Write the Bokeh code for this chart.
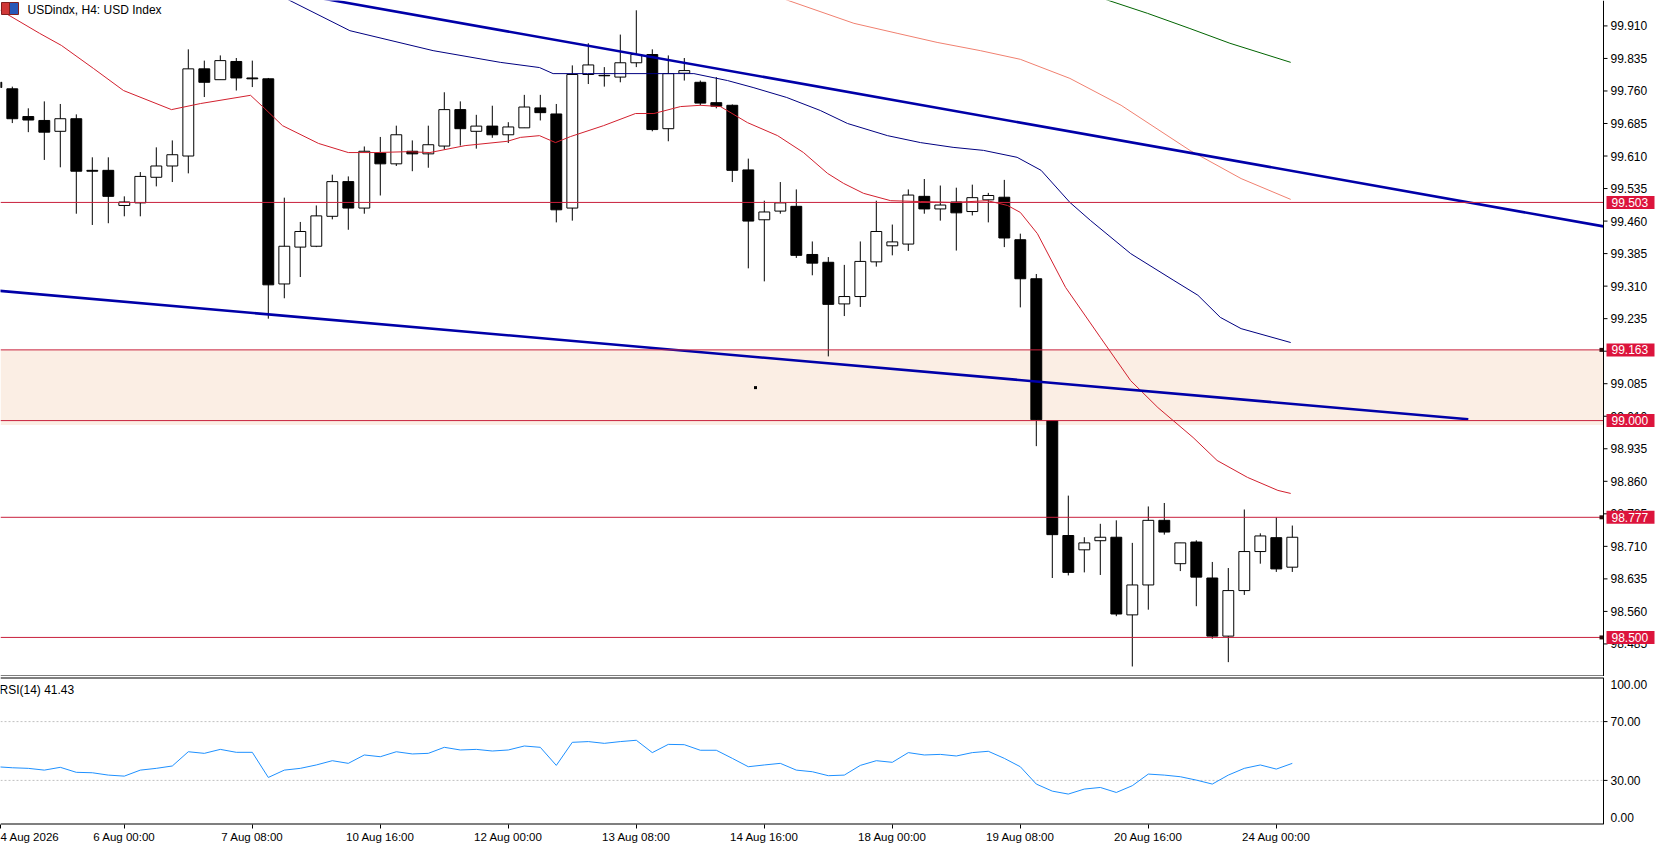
from bokeh.plotting import figure
from bokeh.layouts import column
from bokeh.models import (FixedTicker, Label, Range1d, ColumnDataSource, BoxAnnotation)
from bokeh.embed import file_html
from bokeh.resources import INLINE

# ---------------- data ----------------
bars = list(range(-1, 81))
open_ = [99.780, 99.765, 99.701, 99.692, 99.667, 99.696, 99.577, 99.577, 99.496, 99.502,
         99.561, 99.587, 99.610, 99.811, 99.786, 99.828, 99.790, 99.788, 99.315, 99.400,
         99.402, 99.471, 99.551, 99.490, 99.617, 99.592, 99.621, 99.615, 99.633, 99.717,
         99.667, 99.679, 99.659, 99.675, 99.721, 99.707, 99.490, 99.798, 99.796, 99.792,
         99.825, 99.844, 99.673, 99.801, 99.780, 99.733, 99.727, 99.578, 99.463, 99.483,
         99.494, 99.383, 99.365, 99.269, 99.286, 99.366, 99.403, 99.407, 99.517, 99.488,
         99.504, 99.482, 99.509, 99.515, 99.417, 99.327, 99.000, 98.735, 98.702, 98.723,
         98.731, 98.552, 98.621, 98.770, 98.670, 98.720, 98.637, 98.503, 98.608, 98.698,
         98.730, 98.662]
high = [99.786, 99.770, 99.720, 99.736, 99.730, 99.706, 99.607, 99.607, 99.517, 99.573,
        99.630, 99.646, 99.856, 99.830, 99.842, 99.836, 99.830, 99.790, 99.514, 99.458,
        99.496, 99.567, 99.563, 99.632, 99.654, 99.680, 99.646, 99.680, 99.757, 99.736,
        99.705, 99.726, 99.688, 99.751, 99.751, 99.730, 99.819, 99.870, 99.815, 99.890,
        99.946, 99.856, 99.842, 99.836, 99.784, 99.792, 99.729, 99.604, 99.507, 99.550,
        99.533, 99.413, 99.377, 99.359, 99.413, 99.507, 99.452, 99.533, 99.557, 99.542,
        99.537, 99.544, 99.525, 99.555, 99.431, 99.338, 99.000, 98.827, 98.731, 98.762,
        98.770, 98.718, 98.802, 98.810, 98.718, 98.724, 98.674, 98.660, 98.795, 98.740,
        98.777, 98.758]
low = [99.762, 99.686, 99.665, 99.601, 99.584, 99.477, 99.451, 99.455, 99.471, 99.471,
       99.540, 99.550, 99.570, 99.746, 99.786, 99.761, 99.769, 99.235, 99.282, 99.331,
       99.400, 99.464, 99.440, 99.477, 99.519, 99.587, 99.575, 99.583, 99.625, 99.634,
       99.627, 99.652, 99.640, 99.675, 99.692, 99.457, 99.461, 99.776, 99.770, 99.780,
       99.815, 99.667, 99.644, 99.784, 99.727, 99.720, 99.550, 99.351, 99.321, 99.477,
       99.375, 99.335, 99.148, 99.241, 99.262, 99.355, 99.381, 99.391, 99.477, 99.461,
       99.392, 99.473, 99.457, 99.400, 99.261, 98.941, 98.637, 98.643, 98.650, 98.644,
       98.549, 98.433, 98.564, 98.737, 98.653, 98.572, 98.497, 98.443, 98.598, 98.670,
       98.651, 98.651]
close = [99.768, 99.696, 99.693, 99.665, 99.696, 99.575, 99.575, 99.517, 99.504, 99.563,
         99.587, 99.613, 99.811, 99.780, 99.830, 99.790, 99.788, 99.313, 99.402, 99.436,
         99.472, 99.551, 99.490, 99.621, 99.592, 99.659, 99.615, 99.636, 99.717, 99.673,
         99.679, 99.659, 99.677, 99.723, 99.710, 99.486, 99.798, 99.820, 99.795, 99.825,
         99.844, 99.671, 99.800, 99.807, 99.732, 99.725, 99.577, 99.460, 99.481, 99.502,
         99.381, 99.363, 99.268, 99.286, 99.367, 99.436, 99.412, 99.520, 99.488, 99.497,
         99.479, 99.514, 99.519, 99.421, 99.327, 99.002, 98.737, 98.650, 98.718, 98.731,
         98.554, 98.621, 98.770, 98.743, 98.718, 98.639, 98.503, 98.608, 98.698, 98.734,
         98.658, 98.731]
rsi = [39.3, 38.6, 38.2, 37.0, 38.9, 35.5, 35.2, 33.6, 32.9, 37.0,
       38.2, 39.8, 49.5, 48.4, 51.1, 49.1, 49.1, 32.0, 37.0, 38.2,
       40.5, 43.4, 41.6, 47.3, 46.1, 49.5, 48.0, 48.4, 52.5, 50.7,
       51.1, 50.0, 50.7, 53.4, 52.5, 40.2, 55.9, 56.4, 55.2, 56.4,
       57.3, 48.9, 54.5, 54.3, 50.5, 50.5, 45.0, 39.3, 40.5, 41.6,
       37.0, 35.9, 33.2, 33.6, 40.2, 43.4, 42.3, 48.9, 47.3, 47.7,
       46.6, 48.9, 49.8, 45.0, 39.3, 27.5, 22.7, 20.7, 24.1, 25.2,
       21.8, 26.4, 34.3, 33.6, 32.5, 30.2, 27.5, 33.6, 38.2, 40.5,
       37.7, 41.6]

ma_red_x = [-0.74, 1.7, 3.07, 5.07, 6.95, 9.95, 11.76, 14.89, 15.76, 16.89, 19.14, 21.0,
            22.7, 24.7, 26.1, 28.3, 30.95, 31.76, 32.95, 33.95, 34.9, 36.95, 38.95, 40.1,
            41.76, 43.0, 44.26, 45.95, 47.83, 49.45, 50.95, 51.95, 53.2, 54.9, 56.76, 58.8,
            60.95, 62.2, 63.0, 64.07, 65.83, 68.0, 69.9, 71.6, 73.8, 75.3, 77.2, 79.1, 79.9]
ma_red_y = [99.946, 99.893, 99.865, 99.812, 99.761, 99.717, 99.731, 99.750, 99.720, 99.680,
            99.639, 99.618, 99.618, 99.620, 99.618, 99.634, 99.644, 99.653, 99.657, 99.641,
            99.655, 99.680, 99.708, 99.708, 99.724, 99.727, 99.724, 99.687, 99.657, 99.618,
            99.570, 99.547, 99.524, 99.507, 99.505, 99.503, 99.507, 99.496, 99.480, 99.431,
            99.307, 99.192, 99.092, 99.030, 98.961, 98.908, 98.869, 98.839, 98.832]
ma_navy_x = [17.0, 21.1, 26.3, 30.5, 32.95, 33.8, 35.95, 40.1, 42.6, 44.7, 46.3, 48.4,
             50.5, 52.2, 54.7, 56.76, 58.8, 60.7, 62.8, 64.3, 66.1, 67.4, 69.9, 72.6,
             74.1, 75.5, 76.8, 79.9]
ma_navy_y = [99.975, 99.899, 99.853, 99.826, 99.814, 99.800, 99.800, 99.800, 99.800,
             99.784, 99.768, 99.745, 99.715, 99.685, 99.657, 99.641, 99.630, 99.623,
             99.607, 99.577, 99.503, 99.461, 99.385, 99.323, 99.289, 99.238, 99.212, 99.180]
ma_salmon_x = [48.0, 52.6, 55.3, 57.8, 60.5, 63.0, 66.1, 69.3, 73.6, 76.8, 79.9]
ma_salmon_y = [99.975, 99.916, 99.893, 99.872, 99.853, 99.833, 99.789, 99.727, 99.623,
               99.558, 99.510]
ma_green_x = [68.0, 70.95, 73.6, 76.1, 79.9]
ma_green_y = [99.975, 99.939, 99.904, 99.870, 99.826]

tl_upper_x = [31.76, 63.0]
tl_upper_y = [99.892, 99.687]
tl_lower_x = [-0.74, 91.0]
tl_lower_y = [99.299, 99.003]

levels = [99.503, 99.163, 99.000, 98.777, 98.500]
level_labels = ["99.503", "99.163", "99.000", "98.777", "98.500"]
marked_levels = [99.163, 98.777, 98.500]
zone = [98.990, 99.163]
dot_x = [46.45]
dot_y = [99.076]

price_ticks = [99.910, 99.835, 99.760, 99.685, 99.610, 99.535, 99.460, 99.385, 99.310,
               99.235, 99.160, 99.085, 99.010, 98.935, 98.860, 98.785, 98.710, 98.635,
               98.560, 98.485]
price_tick_labels = ["99.910", "99.835", "99.760", "99.685", "99.610", "99.535", "99.460",
                     "99.385", "99.310", "99.235", "99.160", "99.085", "99.010", "98.935",
                     "98.860", "98.785", "98.710", "98.635", "98.560", "98.485"]
rsi_levels = [70, 30]
rsi_ticks = [100, 70, 30, 0]
rsi_tick_labels = ["100.00", "70.00", "30.00", "0.00"]
time_ticks = [-0.72, 7, 15, 23, 31, 39, 47, 55, 63, 71, 79]
time_labels = ["4 Aug 2026", "6 Aug 00:00", "7 Aug 08:00", "10 Aug 16:00", "12 Aug 00:00",
               "13 Aug 08:00", "14 Aug 16:00", "18 Aug 00:00", "19 Aug 08:00",
               "20 Aug 16:00", "24 Aug 00:00"]

# ---------------- geometry ----------------
FONT = "Liberation Sans"
W = 1662
MAIN_H = 676
RSI_H = 169
PPX = 16.0                     # pixels per bar
X0 = -11.8 / PPX               # left edge of chart
X1 = X0 + 1603 / PPX           # price-axis line
XE = X0 + W / PPX              # right edge of page
Y1 = 99.9686
PPY = 433.7                    # pixels per price unit
Y0 = Y1 - MAIN_H / PPY
XR = Range1d(X0, XE)
LEVEL_COLOR = "#C8203C"

def px(n):
    return n / PPX

# ---------------- main panel ----------------
p = figure(width=W, height=MAIN_H, x_range=XR, y_range=Range1d(Y0, Y1),
           output_backend="svg", toolbar_location=None,
           x_axis_location=None, y_axis_location=None,
           min_border_left=0, min_border_right=0, min_border_top=0, min_border_bottom=0)
p.outline_line_color = None
p.grid.visible = False
p.background_fill_color = "white"
p.border_fill_color = "white"

# zone
p.add_layout(BoxAnnotation(bottom=zone[0], top=zone[1], left=X0, right=X1,
                           fill_color="#FBEEE4", fill_alpha=1.0, line_color=None,
                           level="underlay"))

# candles
tops = [max(o, c) for o, c in zip(open_, close)]
bots = [min(o, c) for o, c in zip(open_, close)]
fills = ["white" if c > o else "black" for o, c in zip(open_, close)]
src = ColumnDataSource(dict(x=bars, h=high, l=low, top=tops, bottom=bots, fill=fills))
p.segment(x0="x", y0="l", x1="x", y1="h", line_color="black", line_width=1, source=src)
p.vbar(x="x", width=0.68, top="top", bottom="bottom", fill_color="fill",
       line_color="black", line_width=1, source=src)

# moving averages
p.line(ma_red_x, ma_red_y, line_color="#D2202E", line_width=1)
p.line(ma_navy_x, ma_navy_y, line_color="#000080", line_width=1)
p.line(ma_salmon_x, ma_salmon_y, line_color="#F08070", line_width=1)
p.line(ma_green_x, ma_green_y, line_color="#006400", line_width=1)

# trend lines
slope_u = (tl_upper_y[1] - tl_upper_y[0]) / (tl_upper_x[1] - tl_upper_x[0])
ux = [10.0, X1]
uy = [tl_upper_y[0] + slope_u * (x - tl_upper_x[0]) for x in ux]
p.line(ux, uy, line_color="#0000A8", line_width=2.6)
slope_l = (tl_lower_y[1] - tl_lower_y[0]) / (tl_lower_x[1] - tl_lower_x[0])
lx = [X0 - 1, tl_lower_x[1]]
ly = [tl_lower_y[0] + slope_l * (x - tl_lower_x[0]) for x in lx]
p.line(lx, ly, line_color="#0000A8", line_width=2.6)

# horizontal levels
n = len(levels)
p.segment(x0=[X0] * n, y0=levels, x1=[X1] * n, y1=levels, line_color=LEVEL_COLOR, line_width=1)
p.scatter([X1 - px(2)] * len(marked_levels), marked_levels, marker="square", size=4,
          fill_color="#301010", line_color=None)
p.scatter(dot_x, dot_y, marker="square", size=3, fill_color="black", line_color=None)

# bottom border of price panel
p.segment(x0=[X0], y0=[Y0], x1=[X1], y1=[Y0], line_color="black", line_width=2)

# price scale (axis line, ticks, labels)
p.segment(x0=[X1], y0=[Y0], x1=[X1], y1=[Y1], line_color="black", line_width=1)
m = len(price_ticks)
p.segment(x0=[X1] * m, y0=price_ticks, x1=[X1 + px(4)] * m, y1=price_ticks,
          line_color="black", line_width=1)
p.text(x=[X1 + px(7)] * m, y=price_ticks, text=price_tick_labels, text_font_size="12px",
       text_font={"value": FONT}, text_color="black", text_baseline="middle",
       text_align="left")
# level price boxes
p.rect(x=[X1 + px(27)] * n, y=levels, width=px(48), height=13 / PPY,
       fill_color="#DC143C", line_color=None)
p.text(x=[X1 + px(8)] * n, y=levels, text=level_labels, text_font_size="12px",
       text_font={"value": FONT}, text_color="white", text_baseline="middle",
       text_align="left")

# title + icon
p.quad(left=[X0 + px(1)], right=[X0 + px(9)], top=[Y1 - 2 / PPY], bottom=[Y1 - 14 / PPY],
       fill_color="#D03838", line_color="#802020")
p.quad(left=[X0 + px(9)], right=[X0 + px(18)], top=[Y1 - 2 / PPY], bottom=[Y1 - 14 / PPY],
       fill_color="#2858B8", line_color="#802020")
p.add_layout(Label(x=X0, y=Y1, x_offset=27, y_offset=-9.5, text="USDindx, H4:  USD Index",
                   text_font=FONT, text_font_size="12px", text_color="black",
                   text_baseline="middle", text_align="left"))

# ---------------- RSI panel ----------------
RPPY = 147 / 100.0
r = figure(width=W, height=RSI_H, x_range=XR, y_range=Range1d(0, 100),
           output_backend="svg", toolbar_location=None,
           x_axis_location="below", y_axis_location=None,
           min_border_left=0, min_border_right=0, min_border_top=1, min_border_bottom=21)
r.outline_line_color = None
r.grid.visible = False
r.background_fill_color = "white"
r.border_fill_color = "white"

xa = r.xaxis[0]
xa.ticker = FixedTicker(ticks=time_ticks)
xa.major_label_overrides = {t: lab for t, lab in zip(time_ticks, time_labels)}
xa.major_label_text_align = "left"
xa.major_tick_out = 4
xa.major_tick_in = 0
xa.minor_tick_line_color = None
xa.major_label_standoff = 2
xa.major_label_text_font = FONT
xa.major_label_text_font_size = "11.5px"
xa.major_label_text_color = "black"
xa.axis_line_color = None
xa.major_tick_line_color = "black"

k = len(rsi_levels)
r.segment(x0=[X0] * k, y0=rsi_levels, x1=[X1] * k, y1=rsi_levels, line_color="#C0C0C0",
          line_width=1, line_dash="2 2")
r.line(bars, rsi, line_color="#1E90FF", line_width=1)

# borders
r.segment(x0=[X0, X0], y0=[100, 0], x1=[X1, X1], y1=[100, 0], line_color="black",
          line_width=2)
r.segment(x0=[X1], y0=[0], x1=[X1], y1=[100], line_color="black", line_width=1)

# RSI scale
label_y = [v for v in rsi_ticks]
label_y[0] = rsi_ticks[0] - 7 / RPPY
label_y[-1] = rsi_ticks[-1] + 7.5 / RPPY
r.segment(x0=[X1] * k, y0=rsi_levels, x1=[X1 + px(4)] * k, y1=rsi_levels,
          line_color="black", line_width=1)
r.text(x=[X1 + px(7)] * len(rsi_ticks), y=label_y, text=rsi_tick_labels,
       text_font_size="12px", text_font={"value": FONT}, text_color="black",
       text_baseline="middle", text_align="left")
r.add_layout(Label(x=X0, y=100, x_offset=-1, y_offset=-12, text="RSI(14) 41.43",
                   text_font=FONT, text_font_size="12px", text_color="black",
                   text_baseline="middle", text_align="left"))

layout = column(p, r, spacing=0)
open("out.html", "w").write(file_html(layout, INLINE))
